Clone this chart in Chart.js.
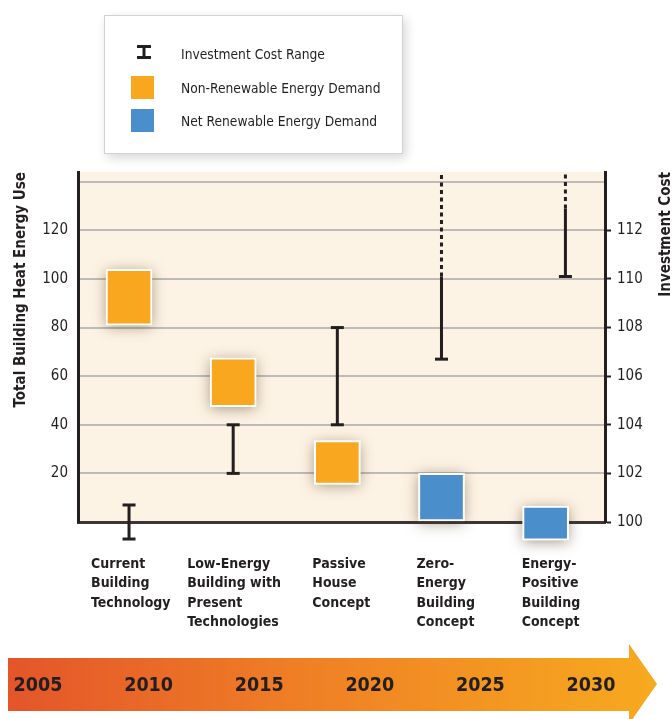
<!DOCTYPE html>
<html>
<head>
<meta charset="utf-8">
<script src="https://cdn.jsdelivr.net/npm/chart.js@4.4.1/dist/chart.umd.min.js"></script>
<style>
  body { margin: 0; background: #fff; color: #231f20; font-family: 'Liberation Sans Narrow', 'DejaVu Sans Condensed', 'Liberation Sans', sans-serif; }
  #wrap { position: relative; width: 672px; height: 719px; overflow: hidden; }
  #chart { position: absolute; left: 0; top: 0; }
  #legend { position: absolute; left: 104px; top: 15px; width: 297px; height: 137px; background: #fff;
            border: 1px solid #d2d2d2; box-shadow: 3px 4px 10px rgba(0,0,0,0.16); }
  #legend .row { position: absolute; left: 0; width: 100%; height: 24px; }
  #legend .icon { position: absolute; left: 26px; top: 0; width: 23px; height: 23px; }
  #legend .text { position: absolute; left: 76px; top: 3px; font-size: 13.7px; line-height: 18px; white-space: nowrap; }
  #timeline { position: absolute; left: 8px; top: 644px; width: 650px; height: 80px;
              background: linear-gradient(90deg, #e4552a 0%, #ef7f25 45%, #f7aa1f 100%);
              clip-path: polygon(0 14px, 621px 14px, 621px 0, 649px 40px, 621px 80px, 621px 67px, 0 67px); }
  .year { position: absolute; top: 672px; font-weight: bold; font-size: 19.5px; line-height: 26px; transform: translateX(-50%); }
</style>
</head>
<body>
<div id="wrap">
  <canvas id="chart" width="672" height="719"></canvas>
  <div id="legend"></div>
  <div id="timeline"></div>
</div>
<script>
// categories and values
const categories = [
    ['Current', 'Building', 'Technology'],
    ['Low-Energy', 'Building with', 'Present', 'Technologies'],
    ['Passive', 'House', 'Concept'],
    ['Zero-', 'Energy', 'Building', 'Concept'],
    ['Energy-', 'Positive', 'Building', 'Concept']
];
const nonRenewable = [[81, 104], [47.5, 67.5], [15.5, 33.5], null, null];
const netRenewable = [null, null, null, [0, 20], [-7.5, 6.5]];
const costLow = [99.3, 102, 104, 106.7, 110.1];
const costHigh = [100.7, 104, 108, 110.1, 112.9];
const costOpenEnded = [false, false, false, true, true];
const costPosition = [0, 1, 2, 3, 4.19];
const energyTicks = [0, 20, 40, 60, 80, 100, 120, 140];
const costTicks = [100, 102, 104, 106, 108, 110, 112, 114];
const years = ['2005', '2010', '2015', '2020', '2025', '2030'];
const seriesNames = ['Investment Cost Range', 'Non-Renewable Energy Demand', 'Net Renewable Energy Demand'];

const INK = '#231f20';
const ORANGE = '#f9a71f';
const BLUE = '#4a8ecb';
const FONT = "'Liberation Sans Narrow', 'DejaVu Sans Condensed', 'Liberation Sans', sans-serif";
const labelShift = [-38, -46, -25, -25, -24];

function barPoints(values) {
    return values.map((v, i) => v ? { x: i, y: v } : null).filter(Boolean);
}

const rangePoints = [];
const rangeCaps = [];
const dashedPoints = [];
costLow.forEach((lo, i) => {
    const x = costPosition[i];
    rangePoints.push({ x, y: lo }, { x, y: costHigh[i] }, { x, y: null });
    rangeCaps.push(6.5, costOpenEnded[i] ? 0 : 6.5, 0);
    if (costOpenEnded[i]) dashedPoints.push({ x, y: costHigh[i] }, { x, y: 114.4 }, { x, y: null });
});

const decor = {
    id: 'decor',
    beforeDraw(chart) {
        const { ctx, chartArea: a } = chart;
        ctx.save();
        ctx.fillStyle = '#fdf3e4';
        ctx.fillRect(a.left, a.top, a.right - a.left, a.bottom - a.top);
        ctx.restore();
    },
    beforeDatasetsDraw(chart) {
        const ctx = chart.ctx;
        ctx.save();
        ctx.shadowColor = 'rgba(80,55,30,0.5)';
        ctx.shadowBlur = 13;
        ctx.shadowOffsetY = 2;
        ctx.fillStyle = '#fdf3e4';
        chart.data.datasets.forEach((ds, di) => {
            if (ds.type !== 'bar') return;
            chart.getDatasetMeta(di).data.forEach(bar => {
                const { x, y, base, width } = bar.getProps(['x', 'y', 'base', 'width'], true);
                ctx.fillRect(x - width / 2, Math.min(y, base), width, Math.abs(base - y));
            });
        });
        ctx.restore();
    },
    afterDatasetDraw(chart, args) {
        // caps that fall below the axis are skipped by Chart.js, draw them here
        if (args.index !== 0) return;
        const bottom = chart.chartArea.bottom;
        args.meta.data.forEach(p => {
            if (!p.skip && p.y > bottom) p.draw(chart.ctx);
        });
    },
    afterDraw(chart) {
        const ctx = chart.ctx;
        const xs = chart.scales.x;
        ctx.save();
        ctx.fillStyle = INK;
        ctx.font = 'bold 14px ' + FONT;
        ctx.textAlign = 'left';
        ctx.textBaseline = 'middle';
        categories.forEach((lines, i) => {
            const x = xs.getPixelForValue(i) + labelShift[i];
            lines.forEach((t, k) => ctx.fillText(t, x, 564 + k * 19.5));
        });
        // right axis title reads bottom to top
        ctx.translate(666, chart.chartArea.top);
        ctx.rotate(-Math.PI / 2);
        ctx.font = 'bold 15px ' + FONT;
        ctx.textAlign = 'right';
        ctx.fillText('Investment Cost', 0, 0);
        ctx.restore();
    }
};

new Chart(document.getElementById('chart'), {
    data: {
        datasets: [
            {
                type: 'line', label: seriesNames[0], yAxisID: 'y2', data: rangePoints,
                borderColor: INK, borderWidth: 3, spanGaps: false, clip: false,
                pointStyle: 'line', pointRadius: rangeCaps, pointBorderWidth: 3,
                pointBorderColor: INK, pointHoverRadius: rangeCaps
            },
            {
                type: 'line', label: 'open range', yAxisID: 'y2', data: dashedPoints,
                borderColor: INK, borderWidth: 3, borderDash: [4, 3.5], spanGaps: false,
                pointRadius: 0
            },
            {
                type: 'bar', label: seriesNames[1], yAxisID: 'y', data: barPoints(nonRenewable),
                backgroundColor: ORANGE, borderColor: '#fff', borderWidth: 2, borderSkipped: false,
                grouped: false, barThickness: 46, clip: false
            },
            {
                type: 'bar', label: seriesNames[2], yAxisID: 'y', data: barPoints(netRenewable),
                backgroundColor: BLUE, borderColor: '#fff', borderWidth: 2, borderSkipped: false,
                grouped: false, barThickness: 46, clip: false
            }
        ]
    },
    options: {
        responsive: false,
        animation: false,
        layout: { padding: { top: 172, left: 0, right: 0, bottom: 0 } },
        plugins: { legend: { display: false }, tooltip: { enabled: false } },
        scales: {
            x: {
                type: 'linear', min: -0.49, max: 4.57, offset: false,
                ticks: { display: false },
                grid: { display: false, offset: false },
                border: { color: '#3a3536', width: 3 },
                afterFit: s => { s.height = 197; }
            },
            y: {
                position: 'left', min: 0, max: 144,
                afterBuildTicks: s => { s.ticks = energyTicks.map(v => ({ value: v })); },
                ticks: {
                    color: INK, padding: 10, font: { family: FONT, size: 15 },
                    callback: v => (v > 0 && v < 140) ? v : ''
                },
                grid: {
                    color: c => c.tick && c.tick.value === 0 ? 'rgba(0,0,0,0)' : '#bdbab7',
                    lineWidth: 2, drawTicks: false
                },
                border: { color: INK, width: 3 },
                title: {
                    display: true, text: 'Total Building Heat Energy Use', align: 'end', color: INK,
                    font: { family: FONT, size: 15, weight: 'bold' }, padding: { top: 12, bottom: 0 }
                },
                afterFit: s => { s.width = 78; }
            },
            y2: {
                position: 'right', min: 100, max: 114.4,
                afterBuildTicks: s => { s.ticks = costTicks.map(v => ({ value: v })); },
                ticks: {
                    color: INK, padding: 6, font: { family: FONT, size: 15 },
                    callback: v => v < 114 ? v : ''
                },
                grid: {
                    drawOnChartArea: false, drawTicks: true, tickLength: 6, tickWidth: 2,
                    tickColor: c => c.tick && c.tick.value >= 114 ? 'rgba(0,0,0,0)' : INK
                },
                border: { color: INK, width: 3 },
                afterFit: s => { s.width = 67; }
            }
        }
    },
    plugins: [decor]
});

// legend built from the series names
const legend = document.getElementById('legend');
const ibeam = '<svg width="14" height="14" style="position:absolute;left:6px;top:3px">' +
    '<path d="M0 1.5H14M0 12.5H14M7 1.5V12.5" stroke="' + INK + '" stroke-width="3" fill="none"/></svg>';
const icons = [ibeam,
    '<div style="width:23px;height:23px;background:' + ORANGE + '"></div>',
    '<div style="width:23px;height:23px;background:' + BLUE + '"></div>'];
seriesNames.forEach((name, i) => {
    const row = document.createElement('div');
    row.className = 'row';
    row.style.top = (26 + i * 33.5) + 'px';
    row.innerHTML = '<div class="icon">' + icons[i] + '</div><div class="text">' + name + '</div>';
    legend.appendChild(row);
});

// timeline years along the arrow
const wrap = document.getElementById('wrap');
years.forEach((yr, i) => {
    const s = document.createElement('div');
    s.className = 'year';
    s.style.left = (38 + i * 110.6) + 'px';
    s.textContent = yr;
    wrap.appendChild(s);
});
</script>
</body>
</html>
